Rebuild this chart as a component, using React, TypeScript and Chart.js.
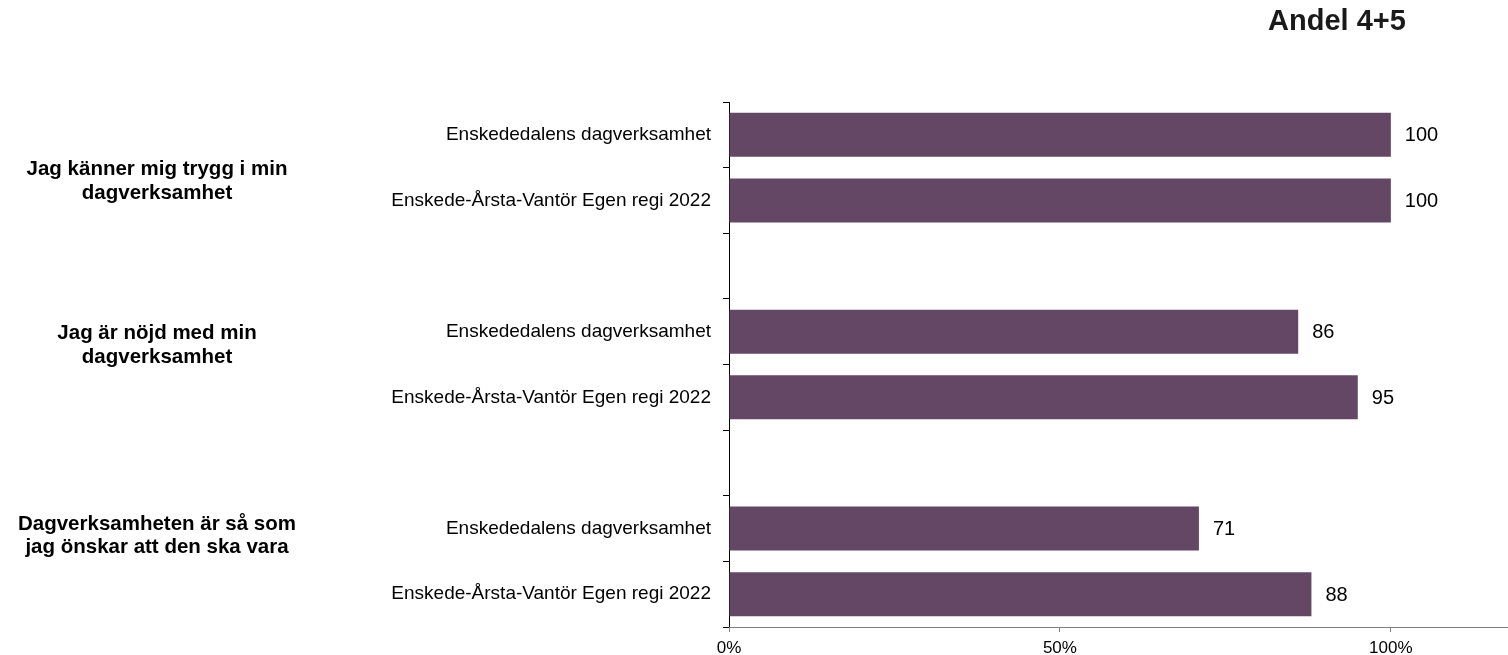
import React, { useEffect, useRef } from "react";
import { Chart, registerables } from "chart.js";

Chart.register(...registerables);

const CATEGORIES = [
  "Enskededalens dagverksamhet",
  "Enskede-Årsta-Vantör Egen regi 2022",
  "",
  "Enskededalens dagverksamhet",
  "Enskede-Årsta-Vantör Egen regi 2022",
  "",
  "Enskededalens dagverksamhet",
  "Enskede-Årsta-Vantör Egen regi 2022",
];
const VALUES: (number | null)[] = [100, 100, null, 86, 95, null, 71, 88];
const GROUP_LABELS = [
  ["Jag känner mig trygg i min", "dagverksamhet"],
  ["Jag är nöjd med min", "dagverksamhet"],
  ["Dagverksamheten är så som", "jag önskar att den ska vara"],
];
const GROUP_LABEL_POS = [0.71, 3.21, 6.11];
const X_TICKS = [0, 50, 100];
const X_MAX = 117.7;
const TITLE = "Andel 4+5";

const FONT = "'Liberation Sans', Arial, sans-serif";
const BAR_COLOR = "#634764";

export default function App() {
  const ref = useRef<HTMLCanvasElement>(null);
  useEffect(() => {
    if (!ref.current) return;
    const extras = {
      id: "extras",
      afterDraw(chart: any) {
        const ctx = chart.ctx;
        const y = chart.scales.y;
        ctx.save();
        // title
        ctx.fillStyle = "#1a1a1a";
        ctx.font = `bold 29px ${FONT}`;
        ctx.textAlign = "center";
        ctx.textBaseline = "middle";
        ctx.fillText(TITLE, 1337, 22);
        // group labels
        const p0 = y.getPixelForValue(0);
        const step = y.getPixelForValue(1) - p0;
        ctx.font = `bold 20.5px ${FONT}`;
        ctx.fillStyle = "#000";
        GROUP_LABELS.forEach((lines, i) => {
          const cy = p0 + GROUP_LABEL_POS[i] * step;
          const lh = 23.5;
          lines.forEach((ln, j) => {
            ctx.fillText(ln, 157, cy + (j - (lines.length - 1) / 2) * lh);
          });
        });
        // value labels
        const meta = chart.getDatasetMeta(0);
        ctx.font = `20px ${FONT}`;
        ctx.textAlign = "left";
        meta.data.forEach((bar: any, i: number) => {
          const v = VALUES[i];
          if (v == null) return;
          ctx.fillText(String(v), bar.x + 14, bar.y + 1);
        });
        ctx.restore();
      },
    };
    const chart = new Chart(ref.current, {
      type: "bar",
      data: {
        labels: CATEGORIES,
        datasets: [
          {
            data: VALUES as any,
            backgroundColor: BAR_COLOR,
            barPercentage: 0.67,
            categoryPercentage: 1,
          },
        ],
      },
      options: {
        indexAxis: "y",
        animation: false,
        responsive: true,
        maintainAspectRatio: false,
        layout: { padding: { top: 102, left: 0, right: 0, bottom: 0 } },
        plugins: {
          legend: { display: false },
          tooltip: { enabled: false },
        },
        scales: {
          y: {
            offset: true,
            afterFit: (s: any) => {
              s.width = 729;
            },
            grid: {
              offset: true,
              drawOnChartArea: false,
              drawTicks: true,
              tickLength: 6,
              color: "#000",
            },
            border: { display: true, color: "#000", width: 1 },
            ticks: {
              autoSkip: false,
              color: "#000",
              padding: 12,
              font: { family: FONT, size: 19 },
            },
          },
          x: {
            min: 0,
            max: X_MAX,
            afterFit: (s: any) => {
              s.height = 28;
            },
            afterBuildTicks: (s: any) => {
              s.ticks = X_TICKS.map((v) => ({ value: v }));
            },
            grid: {
              drawOnChartArea: false,
              drawTicks: true,
              tickLength: 5,
              color: "#808080",
            },
            border: { display: true, color: "#808080", width: 1 },
            ticks: {
              color: "#000",
              padding: 6,
              font: { family: FONT, size: 17 },
              callback: (v: any) => v + "%",
            },
          },
        },
      },
      plugins: [extras],
    });
    return () => chart.destroy();
  }, []);
  return (
    <div style={{ position: "fixed", left: 0, top: 0, width: 1508, height: 655, background: "#fff" }}>
      <canvas ref={ref} />
    </div>
  );
}
